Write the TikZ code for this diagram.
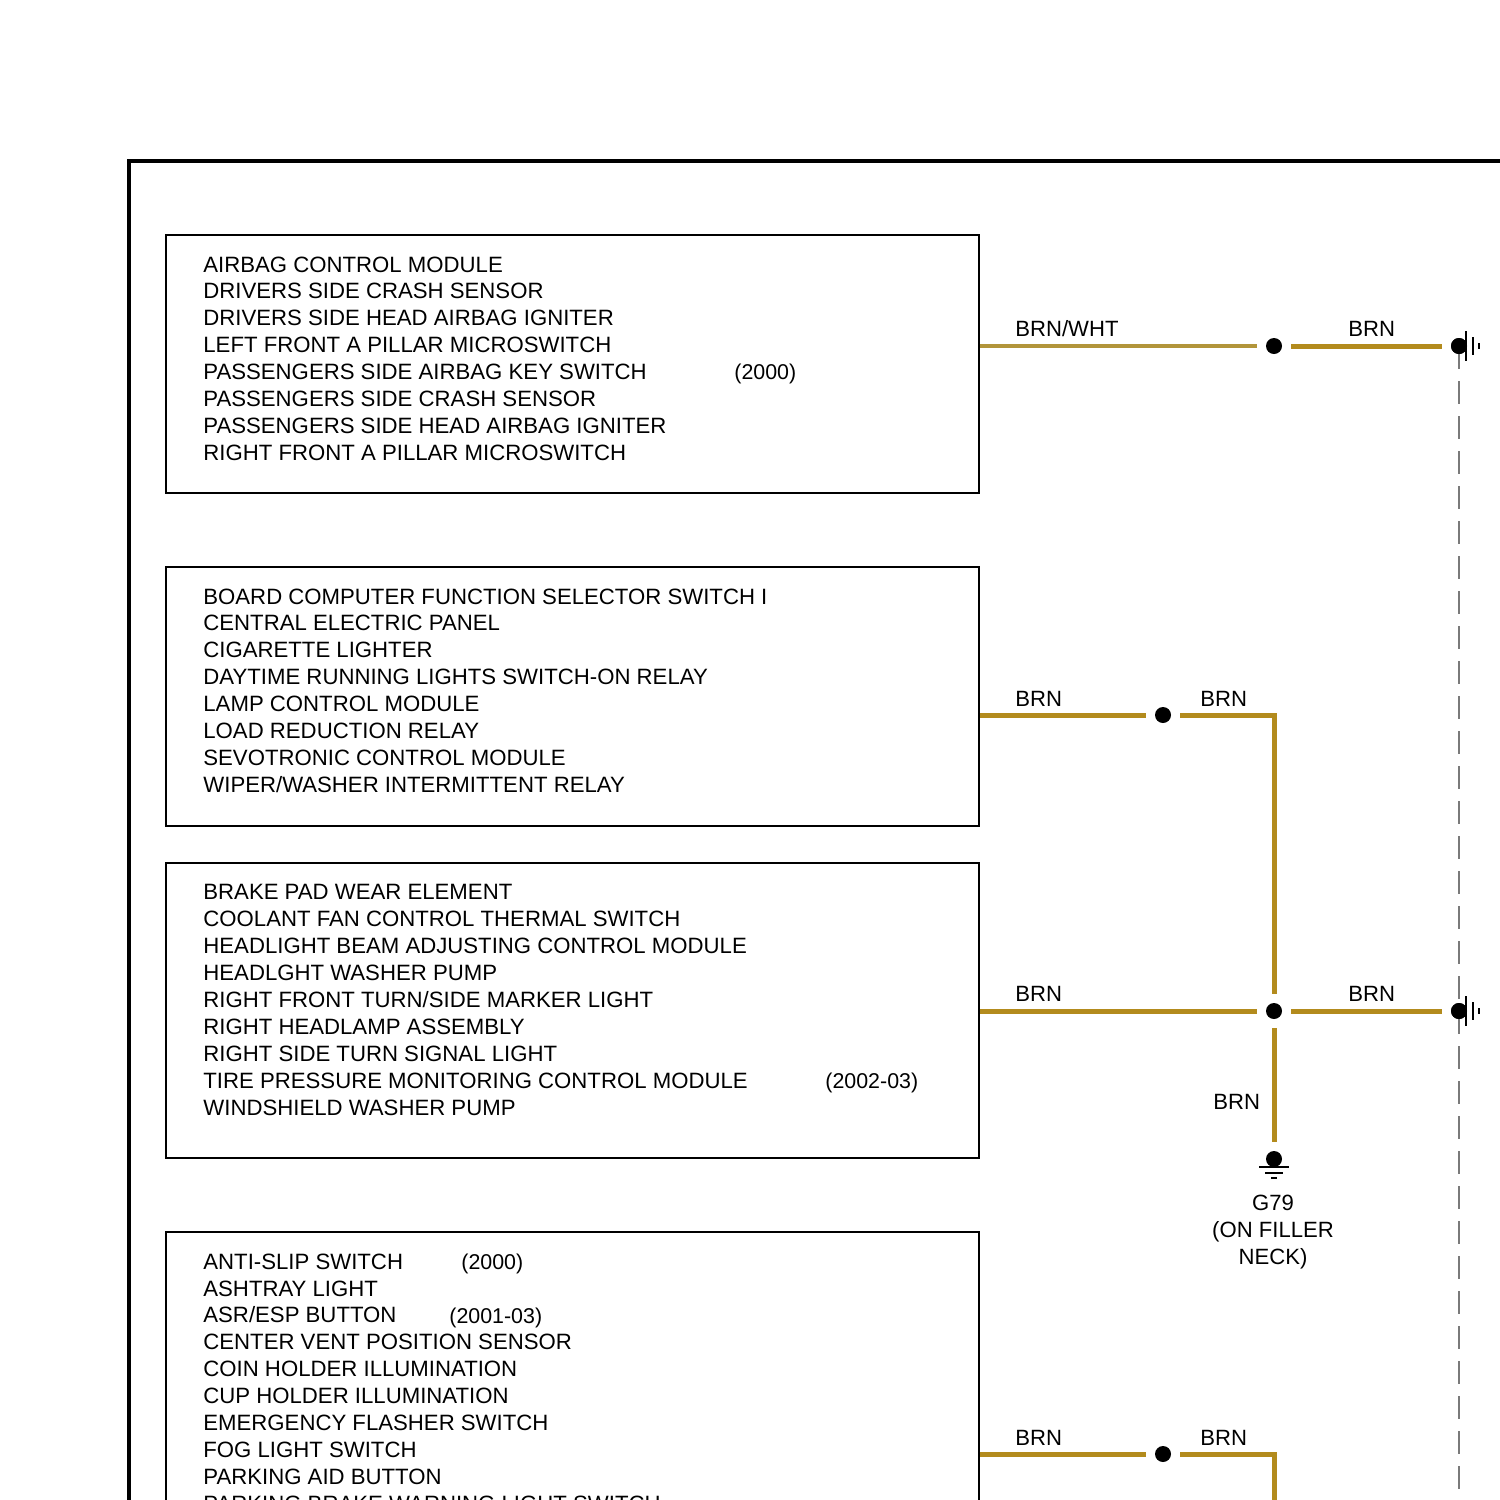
\documentclass[tikz,border=0pt]{standalone}
\usepackage{fontspec}
\setmainfont{Liberation Sans}
\definecolor{wirebrn}{HTML}{B38B1D}
\definecolor{wirelight}{HTML}{B2953A}
\definecolor{dashgray}{HTML}{7A7A7A}
\tikzset{
  compbox/.style={draw=black,line width=0.9pt,fill=white,rectangle,inner sep=0pt,minimum width=406.5pt},
  listtext/.style={anchor=north west,inner sep=0pt,align=left,font=\fontsize{11.09pt}{13.45pt}\selectfont},
  lbl/.style={anchor=base west,inner sep=0pt,font=\fontsize{11.05pt}{13.45pt}\selectfont},
  yearlbl/.style={anchor=base west,inner sep=0pt,font=\fontsize{10.7pt}{13.45pt}\selectfont},
  clbl/.style={anchor=north,inner sep=0pt,align=center,font=\fontsize{11.05pt}{13.45pt}\selectfont},
  joint/.style={circle,fill=black,inner sep=0pt,minimum size=8pt,outer sep=4.5pt},
  wire/.style={draw=wirebrn,line width=2.5pt},
  thinwire/.style={draw=wirelight,line width=1.6pt},
  earth/.style={draw=black,line width=1pt},
  shield/.style={draw=dashgray,line width=1pt,dash pattern=on 11.5pt off 6pt},
}
\begin{document}
\begin{tikzpicture}[x=0.5pt,y=-0.5pt]
\path[use as bounding box,fill=white] (0,0) rectangle (1500,1500);
\clip (0,0) rectangle (1500,1500);
\draw[line width=2.2pt] (1520,161) -| (129,1520);

% boxes
\node[compbox,minimum height=129pt] (b1) at (572.5,364) {};
\node[compbox,minimum height=129.5pt] (b2) at (572.5,696.5) {};
\node[compbox,minimum height=147.5pt] (b3) at (572.5,1010.5) {};
\node[compbox,minimum height=250pt] (b4) at (572.5,1482) {};

% lists
\node[listtext] (t1) at (203,256.2) {AIRBAG CONTROL MODULE\\DRIVERS SIDE CRASH SENSOR\\DRIVERS SIDE HEAD AIRBAG IGNITER\\LEFT FRONT A PILLAR MICROSWITCH\\PASSENGERS SIDE AIRBAG KEY SWITCH\\PASSENGERS SIDE CRASH SENSOR\\PASSENGERS SIDE HEAD AIRBAG IGNITER\\RIGHT FRONT A PILLAR MICROSWITCH};
\node[listtext] (t2) at (203,588.2) {BOARD COMPUTER FUNCTION SELECTOR SWITCH I\\CENTRAL ELECTRIC PANEL\\CIGARETTE LIGHTER\\DAYTIME RUNNING LIGHTS SWITCH-ON RELAY\\LAMP CONTROL MODULE\\LOAD REDUCTION RELAY\\SEVOTRONIC CONTROL MODULE\\WIPER/WASHER INTERMITTENT RELAY};
\node[listtext] (t3) at (203,884.2) {BRAKE PAD WEAR ELEMENT\\COOLANT FAN CONTROL THERMAL SWITCH\\HEADLIGHT BEAM ADJUSTING CONTROL MODULE\\HEADLGHT WASHER PUMP\\RIGHT FRONT TURN/SIDE MARKER LIGHT\\RIGHT HEADLAMP ASSEMBLY\\RIGHT SIDE TURN SIGNAL LIGHT\\TIRE PRESSURE MONITORING CONTROL MODULE\\WINDSHIELD WASHER PUMP};
\node[listtext] (t4) at (203,1253.2) {ANTI-SLIP SWITCH\\ASHTRAY LIGHT\\ASR/ESP BUTTON\\CENTER VENT POSITION SENSOR\\COIN HOLDER ILLUMINATION\\CUP HOLDER ILLUMINATION\\EMERGENCY FLASHER SWITCH\\FOG LIGHT SWITCH\\PARKING AID BUTTON\\PARKING BRAKE WARNING LIGHT SWITCH};

% years
\node[yearlbl] (y1) at (734,379) {(2000)};
\node[yearlbl] (y2) at (825,1088) {(2002-03)};
\node[yearlbl] (y3) at (461,1269) {(2000)};
\node[yearlbl] (y4) at (449,1323) {(2001-03)};

% joints
\node[joint] (j1) at (1274,346) {};
\node[joint] (g1) at (1459,346) {};
\node[joint] (j2) at (1163,715) {};
\node[joint] (j3) at (1274,1011) {};
\node[joint] (g3) at (1459,1011) {};
\node[joint] (g79) at (1274,1159) {};
\node[joint] (j4) at (1163,1454) {};
\coordinate (bottomwire) at (1274,1510);
\coordinate (bottomdash) at (1459,1510);

% shield line
\draw[shield] (g1.center) -- (bottomdash);

% wires
\draw[thinwire] (b1.east |- j1) -- (j1);
\draw[wire] (j1) -- (g1);
\draw[wire] (b2.east |- j2) -- (j2);
\draw[wire] (j2) -| (j3);
\draw[wire] (b3.east |- j3) -- (j3);
\draw[wire] (j3) -- (g3);
\draw[wire] (j3) -- (g79);
\draw[wire] (b4.east |- j4) -- (j4);
\draw[wire] (j4) -| (bottomwire);

% redraw joints over shield
\fill (g1.center) circle (4pt);
\fill (g3.center) circle (4pt);

% side grounds
\foreach \g in {g1,g3}{
  \draw[earth] ([shift={(7,-15)}]\g.center) -- ([shift={(7,15)}]\g.center);
  \draw[earth] ([shift={(13.5,-9)}]\g.center) -- ([shift={(13.5,9)}]\g.center);
  \draw[earth] ([shift={(19.5,-3)}]\g.center) -- ([shift={(19.5,3)}]\g.center);
}
% bottom ground
\draw[earth] ([shift={(-15,7.5)}]g79.center) -- ([shift={(15,7.5)}]g79.center);
\draw[earth] ([shift={(-9,13.5)}]g79.center) -- ([shift={(9,13.5)}]g79.center);
\draw[earth] ([shift={(-3,18.5)}]g79.center) -- ([shift={(3,18.5)}]g79.center);

% wire labels
\node[lbl] (l1) at (1015,336) {BRN/WHT};
\node[lbl] (l2) at (1348,336) {BRN};
\node[lbl] (l3) at (1015,706) {BRN};
\node[lbl] (l4) at (1200,706) {BRN};
\node[lbl] (l5) at (1015,1001) {BRN};
\node[lbl] (l6) at (1348,1001) {BRN};
\node[lbl] (l7) at (1213,1109) {BRN};
\node[lbl] (l8) at (1015,1445) {BRN};
\node[lbl] (l9) at (1200,1445) {BRN};
\node[clbl] (gl) at (1273,1195) {G79\\(ON FILLER\\NECK)};
\end{tikzpicture}
\end{document}
